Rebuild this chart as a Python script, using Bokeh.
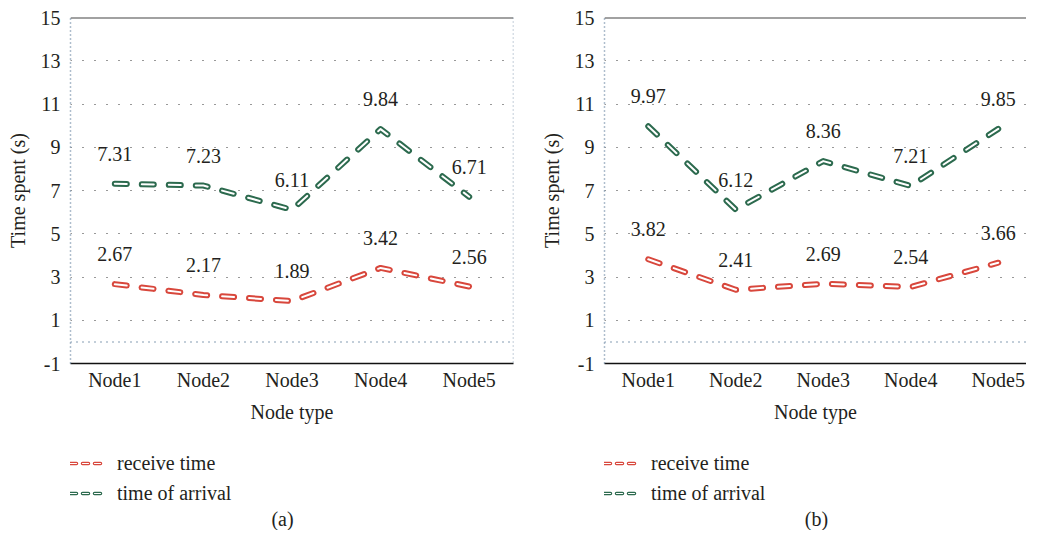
from bokeh.plotting import figure
from bokeh.models import FixedTicker, Span, Legend, LegendItem, Label
from bokeh.layouts import row, column
from bokeh.embed import file_html
from bokeh.resources import INLINE
from bokeh.core.properties import value

# ---- data ----
nodes = ["Node1", "Node2", "Node3", "Node4", "Node5"]
node_pos = [1, 2, 3, 4, 5]
y_ticks = [-1, 1, 3, 5, 7, 9, 11, 13, 15]
grid_ticks = [1, 3, 5, 7, 9, 11, 13]

a_receive = [2.67, 2.17, 1.89, 3.42, 2.56]
a_arrival = [7.31, 7.23, 6.11, 9.84, 6.71]
b_receive = [3.82, 2.41, 2.69, 2.54, 3.66]
b_arrival = [9.97, 6.12, 8.36, 7.21, 9.85]

series_names = ["receive time", "time of arrival"]

FONT = "Liberation Serif"
FS = "20px"
TXT = "#231f20"
RED = "#d8473c"
GREEN = "#2c6a4e"
BLUEGREY = "#5f7d9b"
MAIN_H = 430
LEG_H = 100
NAN = float("nan")


def make_panel(receive, arrival, caption, width, frame_w, x_end, border_right, right_edge):
    p = figure(width=width, height=MAIN_H, x_range=(0.5, x_end), y_range=(-1, 15),
               output_backend="svg", toolbar_location=None,
               min_border_left=70, min_border_right=border_right,
               min_border_top=17, min_border_bottom=67)
    p.outline_line_color = None
    p.background_fill_color = "white"
    p.border_fill_color = "white"

    # grid
    p.xgrid.visible = False
    p.ygrid.ticker = FixedTicker(ticks=grid_ticks)
    p.ygrid.grid_line_color = "#333333"
    p.ygrid.grid_line_dash = "1 11"
    p.ygrid.grid_line_width = 1.2

    # axes
    p.xaxis.ticker = FixedTicker(ticks=node_pos)
    p.xaxis.major_label_overrides = {k: n for k, n in zip(node_pos, nodes)}
    p.yaxis.ticker = FixedTicker(ticks=y_ticks)
    p.yaxis.major_label_overrides = {t: str(t) for t in y_ticks}
    for ax in (p.xaxis[0], p.yaxis[0]):
        ax.major_tick_line_color = None
        ax.minor_tick_line_color = None
        ax.major_tick_out = 0
        ax.major_tick_in = 0
        ax.major_label_text_font = FONT
        ax.major_label_text_font_size = FS
        ax.major_label_text_color = TXT
        ax.axis_label_text_font = FONT
        ax.axis_label_text_font_size = FS
        ax.axis_label_text_font_style = "normal"
        ax.axis_label_text_color = TXT
    p.xaxis.axis_label = "Node type"
    p.yaxis.axis_label = "Time spent (s)"
    p.xaxis.axis_line_color = "#111111"
    p.xaxis.axis_line_width = 1.6
    p.xaxis.major_label_standoff = 5
    p.xaxis.axis_label_standoff = 7
    p.yaxis.axis_line_color = BLUEGREY
    p.yaxis.axis_line_dash = "1 3"
    p.yaxis.axis_line_width = 1.5
    p.yaxis.major_label_standoff = 10
    p.yaxis.axis_label_standoff = 9

    # frame lines
    p.add_layout(Span(location=15, dimension="width", line_color="#454545", line_width=2))
    p.add_layout(Span(location=0, dimension="width", line_color=BLUEGREY,
                      line_dash="1 5", line_width=1.5))
    if right_edge:
        p.add_layout(Span(location=5.5, dimension="height", line_color=BLUEGREY,
                          line_dash="1 3", line_width=1.5))

    # legend / caption strip below the plot (its frame is aligned with the plot frame)
    q = figure(width=width, height=LEG_H, x_range=(0, frame_w), y_range=(0, LEG_H),
               output_backend="svg", toolbar_location=None,
               x_axis_type=None, y_axis_type=None,
               min_border_left=0, min_border_right=0, min_border_top=0, min_border_bottom=0)
    q.outline_line_color = None
    q.grid.visible = False

    # hollow dashed lines
    legend_items = []
    for vals, col, name in ((receive, RED, series_names[0]), (arrival, GREEN, series_names[1])):
        p.line(node_pos, vals, line_color=col, line_width=6, line_dash="12 15",
               line_cap="round", line_join="round")
        p.line(node_pos, vals, line_color="white", line_width=2, line_dash="12 15",
               line_cap="round", line_join="round")
        p.text(node_pos, vals, text=[f"{v:.2f}" for v in vals], y_offset=-30,
               text_align="center", text_baseline="middle",
               text_font=value(FONT), text_font_size=FS, text_color=TXT)
        lo = q.line([NAN, NAN], [NAN, NAN], line_color=col, line_width=3.5,
                    line_dash="6 6", line_cap="round")
        li = q.line([NAN, NAN], [NAN, NAN], line_color="white", line_width=1.2,
                    line_dash="6 6", line_cap="round")
        legend_items.append(LegendItem(label=name, renderers=[lo, li]))

    legend = Legend(items=legend_items, location=(0, 25), orientation="vertical",
                    glyph_width=33, glyph_height=24, label_height=24, spacing=6,
                    padding=0, margin=0, label_standoff=14,
                    border_line_color=None, background_fill_alpha=0,
                    label_text_font=FONT, label_text_font_size=FS,
                    label_text_color=TXT)
    q.add_layout(legend)

    q.add_layout(Label(x=212, y=12, text=caption, text_align="center",
                       text_baseline="middle", text_font=FONT, text_font_size=FS,
                       text_color=TXT))
    return column(p, q, spacing=0)


pa = make_panel(a_receive, a_arrival, "(a)", 534, 443, 5.5, 21, True)
pb = make_panel(b_receive, b_arrival, "(b)", 492, 422, 0.5 + 422 / 87.5, 0, False)

layout = row(pa, pb, spacing=0)
open("out.html", "w").write(file_html(layout, INLINE))
